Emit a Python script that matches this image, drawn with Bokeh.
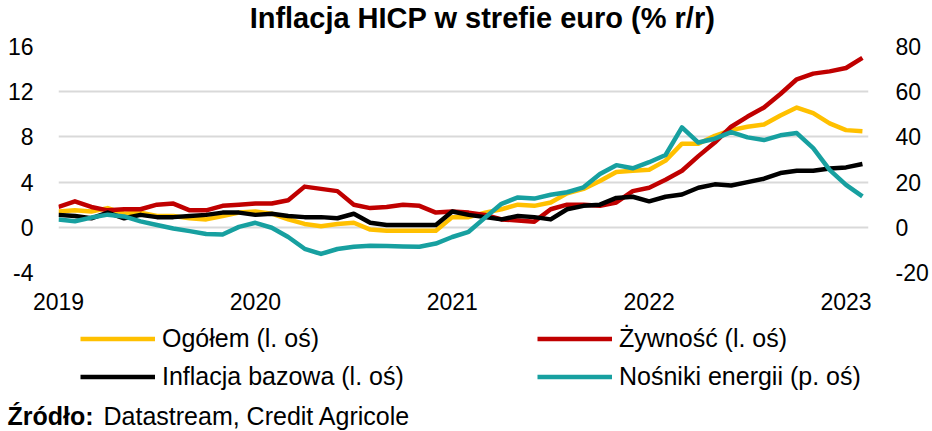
from bokeh.plotting import figure
from bokeh.models import (ColumnDataSource, Range1d, LinearAxis, FixedTicker,
                          Legend, LegendItem, Label)
from bokeh.layouts import column
from bokeh.embed import file_html
from bokeh.resources import INLINE

# ---------------- data (monthly, Jan 2019 - Feb 2023) ----------------
months = [f"{y}-{m:02d}" for y in (2019, 2020, 2021, 2022, 2023) for m in range(1, 13)][:50]

ogolem = [1.4, 1.5, 1.4, 1.7, 1.2, 1.3, 1.0, 1.0, 0.8, 0.7, 1.0, 1.3,
          1.4, 1.2, 0.7, 0.3, 0.1, 0.3, 0.4, -0.2, -0.3, -0.3, -0.3, -0.3,
          0.9, 0.9, 1.3, 1.6, 2.0, 1.9, 2.2, 3.0, 3.4, 4.1, 4.9, 5.0,
          5.1, 5.9, 7.4, 7.4, 8.1, 8.6, 8.9, 9.1, 9.9, 10.6, 10.1, 9.2,
          8.6, 8.5]

zywnosc = [1.8, 2.3, 1.8, 1.5, 1.6, 1.6, 2.0, 2.1, 1.5, 1.5, 1.9, 2.0,
           2.1, 2.1, 2.4, 3.6, 3.4, 3.2, 2.0, 1.7, 1.8, 2.0, 1.9, 1.3,
           1.4, 1.3, 1.1, 0.7, 0.6, 0.5, 1.6, 2.0, 2.0, 1.9, 2.2, 3.2,
           3.5, 4.2, 5.0, 6.3, 7.5, 8.9, 9.8, 10.6, 11.8, 13.1, 13.6, 13.8,
           14.1, 15.0]

bazowa = [1.1, 1.0, 0.8, 1.3, 0.8, 1.1, 0.9, 0.9, 1.0, 1.1, 1.3, 1.3,
          1.1, 1.2, 1.0, 0.9, 0.9, 0.8, 1.2, 0.4, 0.2, 0.2, 0.2, 0.2,
          1.4, 1.1, 0.9, 0.7, 1.0, 0.9, 0.7, 1.6, 1.9, 2.0, 2.6, 2.7,
          2.3, 2.7, 2.9, 3.5, 3.8, 3.7, 4.0, 4.3, 4.8, 5.0, 5.0, 5.2,
          5.3, 5.6]

energia = [3.5, 2.7, 4.3, 5.6, 4.8, 2.6, 1.0, -0.5, -1.7, -3.0, -3.2, 0.2,
           2.0, -0.2, -4.3, -9.5, -11.8, -9.6, -8.6, -8.2, -8.3, -8.5, -8.6, -7.2,
           -4.3, -2.0, 4.3, 10.4, 13.2, 12.7, 14.4, 15.5, 17.7, 23.6, 27.5, 26.1,
           28.8, 32.0, 44.2, 37.5, 39.2, 42.1, 39.8, 38.6, 40.7, 41.7, 35.0, 25.4,
           18.8, 13.7]

year_labels = ["2019", "2020", "2021", "2022", "2023"]
left_ticks = [-4, 0, 4, 8, 12, 16]
right_ticks = [-20, 0, 20, 40, 60, 80]

series_names = ["Ogółem (l. oś)", "Żywność (l. oś)",
                "Inflacja bazowa (l. oś)", "Nośniki energii (p. oś)"]
title_text = "Inflacja HICP w strefie euro (% r/r)"
source_bold = "Źródło:"
source_rest = "Datastream, Credit Agricole"

# ---------------- styling ----------------
FONT = "Liberation Sans"
C_YELLOW = "#FFC000"
C_RED = "#C00000"
C_BLACK = "#000000"
C_TEAL = "#17A0A0"
LW = 4.5
colors = [C_YELLOW, C_RED, C_BLACK, C_TEAL]
W = 932


def blank_panel(h):
    f = figure(width=W, height=h, x_range=Range1d(0, W), y_range=Range1d(h, 0),
               output_backend="svg", toolbar_location=None,
               x_axis_type=None, y_axis_type=None, min_border=0)
    f.outline_line_color = None
    f.xgrid.grid_line_color = None
    f.ygrid.grid_line_color = None
    return f


# ---------------- title panel ----------------
H1 = 34
t = blank_panel(H1)
t.add_layout(Label(x=482, y=17, text=title_text, text_align="center",
                   text_baseline="middle", text_font=FONT, text_font_style="bold",
                   text_font_size="29px", text_color="#000000"))

# ---------------- main chart ----------------
idx = list(range(len(months)))
src = ColumnDataSource(dict(x=idx, month=months, ogolem=ogolem, zywnosc=zywnosc,
                            bazowa=bazowa, energia=energia))

p = figure(frame_width=810, frame_height=226,
           x_range=Range1d(0, 49.37), y_range=Range1d(-4, 16),
           output_backend="svg", toolbar_location=None,
           min_border_left=58, min_border_right=64,
           min_border_top=12, min_border_bottom=46)
p.extra_y_ranges = {"right": Range1d(-20, 80)}
p.outline_line_color = None

p.xgrid.grid_line_color = None
p.ygrid.grid_line_color = "#D9D9D9"
p.ygrid.grid_line_width = 2

# lines (draw order as in original: yellow, red, black, teal)
r_og = p.line("x", "ogolem", source=src, line_color=C_YELLOW, line_width=LW, line_join="round")
r_zy = p.line("x", "zywnosc", source=src, line_color=C_RED, line_width=LW, line_join="round")
r_ba = p.line("x", "bazowa", source=src, line_color=C_BLACK, line_width=LW, line_join="round")
r_en = p.line("x", "energia", source=src, line_color=C_TEAL, line_width=LW, line_join="round",
              y_range_name="right")


def style_axis(ax, standoff):
    ax.axis_line_color = None
    ax.major_tick_line_color = None
    ax.minor_tick_line_color = None
    ax.major_tick_out = 0
    ax.major_tick_in = 0
    ax.minor_tick_out = 0
    ax.major_label_text_font = FONT
    ax.major_label_text_font_size = "23px"
    ax.major_label_text_color = "#000000"
    ax.major_label_standoff = standoff


year_ticks = [months.index(y + "-01") for y in year_labels]
p.xaxis.ticker = FixedTicker(ticks=year_ticks)
p.xaxis.major_label_overrides = {t_: lbl for t_, lbl in zip(year_ticks, year_labels)}
style_axis(p.xaxis[0], 20)

p.yaxis.ticker = FixedTicker(ticks=left_ticks)
p.yaxis.major_label_overrides = {t_: str(t_) for t_ in left_ticks}
style_axis(p.yaxis[0], 25)

right_axis = LinearAxis(y_range_name="right", ticker=FixedTicker(ticks=right_ticks))
right_axis.major_label_overrides = {t_: str(t_) for t_ in right_ticks}
style_axis(right_axis, 27)
p.add_layout(right_axis, "right")

# ---------------- legend + source panel ----------------
H2 = 113
q = blank_panel(H2)

for f in (t, p, q):
    try:
        f.frame_align = False
    except Exception:
        pass

# renderers with no visible points that only give the legend its swatches
nan = float("nan")
sw = [q.line(x=[nan], y=[nan], line_color=c, line_width=LW) for c in colors]


def make_legend(items, loc):
    lg = Legend(items=items, location=loc, orientation="vertical")
    lg.glyph_width = 75
    lg.glyph_height = 29
    lg.label_height = 29
    lg.label_standoff = 7
    lg.spacing = 9
    lg.padding = 0
    lg.margin = 0
    lg.label_text_font = FONT
    lg.label_text_font_size = "25px"
    lg.label_text_color = "#000000"
    lg.border_line_color = None
    lg.background_fill_alpha = 0
    return lg


leg1 = make_legend([LegendItem(label=series_names[0], renderers=[sw[0]]),
                    LegendItem(label=series_names[2], renderers=[sw[2]])], (80, 40))
leg2 = make_legend([LegendItem(label=series_names[1], renderers=[sw[1]]),
                    LegendItem(label=series_names[3], renderers=[sw[3]])], (537, 40))
q.add_layout(leg1)
q.add_layout(leg2)

q.add_layout(Label(x=7, y=97, text=source_bold, text_align="left",
                   text_baseline="middle", text_font=FONT, text_font_style="bold",
                   text_font_size="25px", text_color="#000000"))
q.add_layout(Label(x=103, y=97, text=source_rest, text_align="left",
                   text_baseline="middle", text_font=FONT,
                   text_font_size="25px", text_color="#000000"))

layout = column(t, p, q, spacing=0)
open("out.html", "w").write(file_html(layout, INLINE))
